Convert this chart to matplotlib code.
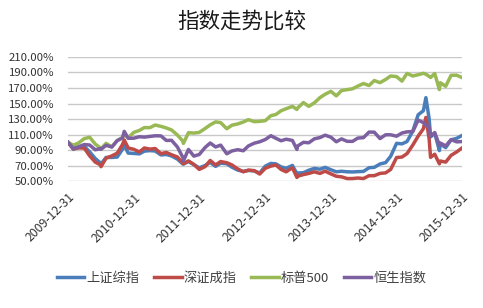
import matplotlib
matplotlib.use("Agg")
import matplotlib.pyplot as plt
from matplotlib.ticker import FuncFormatter
import pandas as pd

plt.rcParams['font.family'] = ['Noto Sans CJK SC', 'DejaVu Sans']

dates = [
    "2009-12-31", "2010-01-29", "2010-02-26", "2010-03-31", "2010-04-30", "2010-05-31",
    "2010-06-30", "2010-07-02", "2010-07-30", "2010-08-31", "2010-09-30", "2010-10-29",
    "2010-11-08", "2010-11-30", "2010-12-31", "2011-01-31", "2011-02-28", "2011-03-31",
    "2011-04-29", "2011-05-31", "2011-06-30", "2011-07-29", "2011-08-31", "2011-09-30",
    "2011-10-03", "2011-10-31", "2011-11-30", "2011-12-30", "2012-01-31", "2012-02-29",
    "2012-03-30", "2012-04-27", "2012-05-31", "2012-06-29", "2012-07-31", "2012-08-31",
    "2012-09-28", "2012-10-31", "2012-11-30", "2012-12-31", "2013-01-31", "2013-02-28",
    "2013-03-29", "2013-04-26", "2013-05-31", "2013-06-25", "2013-06-28", "2013-07-31",
    "2013-08-30", "2013-09-30", "2013-10-31", "2013-11-29", "2013-12-31", "2014-01-30",
    "2014-02-28", "2014-03-31", "2014-04-30", "2014-05-30", "2014-06-30", "2014-07-31",
    "2014-08-29", "2014-09-30", "2014-10-31", "2014-11-28", "2014-12-31", "2015-01-30",
    "2015-02-27", "2015-03-31", "2015-04-30", "2015-05-29", "2015-06-12", "2015-06-30",
    "2015-07-08", "2015-07-31", "2015-08-26", "2015-08-31", "2015-09-30", "2015-10-30",
    "2015-11-30", "2015-12-31",
]

# values in % of 2009-12-31 level
shanghai = [
    100.0, 91.2, 93.1, 94.9, 87.6, 79.1, 73.2, 72.1, 80.5, 80.5, 81.0, 90.9,
    96.4, 86.1, 85.7, 85.1, 88.6, 89.3, 88.8, 83.7, 84.3, 82.4, 78.3, 72.0,
    72.0, 75.3, 71.2, 67.1, 70.0, 74.1, 69.0, 73.1, 72.4, 67.9, 64.2, 62.5,
    63.7, 63.1, 60.4, 69.2, 72.8, 72.2, 68.3, 66.5, 70.2, 59.5, 60.4, 60.8,
    64.0, 66.4, 65.3, 67.7, 64.6, 62.0, 62.7, 62.0, 61.8, 62.2, 62.5, 67.2,
    67.7, 72.1, 73.8, 81.9, 98.7, 98.0, 101.0, 114.4, 135.5, 140.7, 157.6, 130.5,
    107.0, 111.8, 89.3, 97.8, 93.2, 103.2, 105.1, 109.0,
]
shenzhen = [
    100.0, 91.5, 93.0, 92.5, 82.5, 74.5, 70.8, 68.6, 79.6, 82.5, 86.0, 97.0,
    103.0, 92.7, 91.0, 87.6, 92.7, 91.2, 92.0, 85.4, 86.9, 84.0, 81.0, 73.0,
    72.3, 76.0, 71.5, 65.1, 68.6, 76.6, 70.8, 75.2, 73.7, 70.8, 65.7, 62.0,
    64.2, 63.5, 59.1, 66.5, 69.3, 70.8, 65.0, 62.0, 67.2, 54.7, 56.2, 58.4,
    59.9, 62.0, 59.9, 62.8, 59.3, 56.2, 55.5, 53.3, 53.3, 54.0, 53.3, 57.0,
    57.0, 59.9, 60.6, 65.0, 80.4, 81.0, 85.4, 96.4, 108.0, 117.5, 132.1, 104.4,
    80.6, 84.7, 72.3, 75.9, 74.5, 83.2, 87.6, 93.0,
]
sp500 = [
    100.0, 96.3, 99.0, 104.8, 106.5, 97.7, 92.5, 91.7, 98.7, 94.1, 102.3, 106.1,
    109.7, 105.9, 112.8, 115.3, 119.0, 118.9, 122.3, 120.6, 118.5, 115.9, 109.3, 101.4,
    98.6, 112.4, 111.9, 112.8, 117.7, 122.5, 126.3, 125.4, 117.5, 122.1, 123.7, 126.2,
    129.2, 126.6, 127.0, 127.9, 134.3, 135.9, 140.7, 143.3, 146.3, 142.4, 144.0, 151.2,
    146.4, 150.9, 157.6, 162.0, 165.7, 159.9, 166.7, 167.9, 169.0, 172.5, 175.8, 173.2,
    179.6, 176.9, 181.0, 185.5, 184.7, 178.9, 188.8, 185.5, 187.1, 189.0, 187.8, 185.0,
    183.5, 188.7, 168.0, 176.8, 172.2, 186.4, 186.5, 183.3,
]
hangseng = [
    100.0, 92.0, 94.2, 97.1, 96.5, 90.4, 92.0, 91.0, 96.1, 93.9, 102.2, 105.6,
    114.1, 105.2, 105.3, 107.2, 106.7, 107.6, 108.4, 108.3, 102.4, 102.6, 93.9, 80.4,
    76.0, 90.8, 82.2, 84.3, 93.2, 99.1, 94.0, 96.4, 85.2, 88.9, 90.5, 89.1,
    95.3, 98.9, 100.7, 103.6, 108.5, 105.2, 102.0, 104.0, 102.4, 90.8, 95.1, 100.0,
    99.4, 104.5, 106.1, 109.2, 106.6, 100.7, 104.4, 101.3, 101.2, 105.5, 106.0, 113.2,
    113.1, 104.8, 109.7, 109.7, 107.9, 112.0, 113.5, 113.8, 128.6, 125.4, 122.0, 120.0,
    107.5, 112.6, 96.4, 99.1, 95.3, 103.5, 100.6, 101.0,
]

names = ["上证综指", "深证成指", "标普500", "恒生指数"]
colors = ["#4a7ebb", "#be4b48", "#98b954", "#7d60a0"]
tick_labels = ["2009-12-31", "2010-12-31", "2011-12-31", "2012-12-31",
               "2013-12-31", "2014-12-31", "2015-12-31"]

x = pd.to_datetime(dates)
ticks = pd.to_datetime(tick_labels)

fig = plt.figure(figsize=(4.83, 3.08), dpi=100)
ax = fig.add_axes([0.141, 0.412, 0.816, 0.403])

for vals, name, c in zip([shanghai, shenzhen, sp500, hangseng], names, colors):
    ax.plot(x, vals, color=c, lw=2.5, label=name, solid_joinstyle='round')

ax.set_ylim(50, 210)
ax.set_yticks(range(50, 211, 20))
ax.yaxis.set_major_formatter(FuncFormatter(lambda v, p: f"{v:.2f}%"))
ax.set_xlim(ticks[0], ticks[-1])
ax.set_xticks(ticks)
ax.set_xticklabels(tick_labels, rotation=45, ha='right', rotation_mode='anchor')
ax.grid(axis='y', color='#c8c8c8', lw=1)
ax.set_axisbelow(True)
for s in ax.spines.values():
    s.set_visible(False)
ax.tick_params(length=0, colors='#333333')
ax.tick_params(axis='y', pad=10, labelsize=8.2)
ax.tick_params(axis='x', pad=7, labelsize=8.8)

fig.suptitle("指数走势比较", x=0.5, y=0.965, fontsize=15.5, color='#1a1a1a')
fig.legend(loc='center', bbox_to_anchor=(0.5, 0.097), ncol=4, frameon=False,
           fontsize=9.5, handlelength=2.1, handletextpad=0.15, columnspacing=1.1,
           labelcolor='#404040')

fig.savefig("out.png", dpi=100)
